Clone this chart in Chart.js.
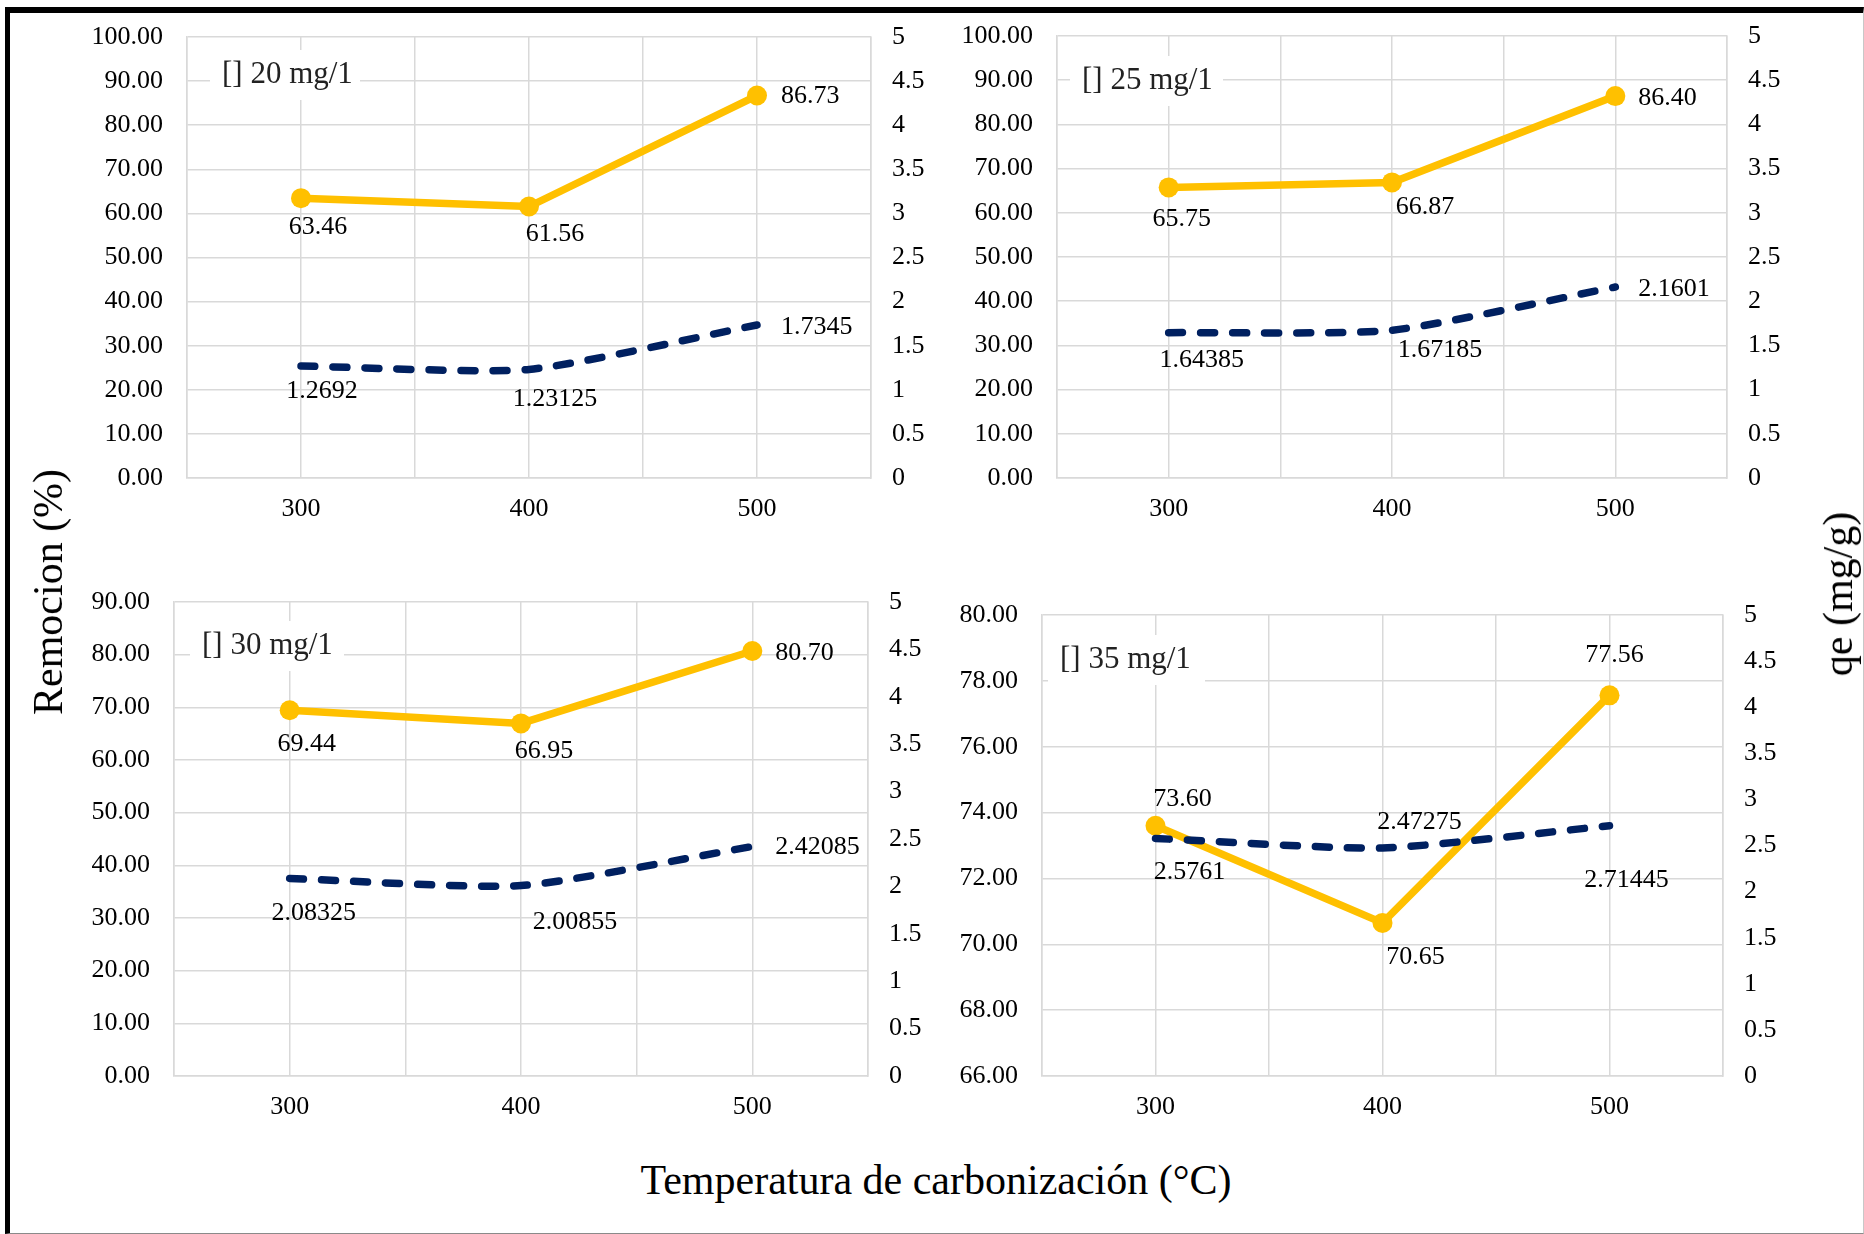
<!DOCTYPE html>
<html>
<head>
<meta charset="utf-8">
<script src="https://cdn.jsdelivr.net/npm/chart.js@4.4.1/dist/chart.umd.min.js"></script>
<style>
  html, body { margin: 0; padding: 0; background: #fff; }
  body { width: 1864px; height: 1234px; position: relative; overflow: hidden;
         font-family: "Liberation Serif", "Times New Roman", serif; color: #000; }
  .frame { position: absolute; left: 5px; top: 7px; width: 1859px; height: 1227px; box-sizing: border-box;
           border-top: 6px solid #000; border-left: 5px solid #000;
           border-right: 1px solid #c8c8c8; border-bottom: 1px solid #8a8a8a; }
  canvas { position: absolute; }
  .title { position: absolute; font-size: 42px; line-height: 1; white-space: nowrap; z-index: 5; }
  .rot { transform: translate(-50%, -50%) rotate(-90deg); }
  .flat { transform: translate(-50%, -50%); }
</style>
</head>
<body>
<div class="frame"></div>
<div class="title rot" style="left:48px; top:592px;">Remocion (%)</div>
<div class="title rot" style="left:1838px; top:594px;">qe (mg/g)</div>
<div class="title flat" style="left:936px; top:1180px;">Temperatura de carbonización (°C)</div>

<script>
// data
const temps = [300, 400, 500];
const xTickLabels = [300, 400, 500];
const panelTitles = ['[] 20 mg/1', '[] 25 mg/1', '[] 30 mg/1', '[] 35 mg/1'];

const remocion20 = [63.46, 61.56, 86.73];
const qe20       = [1.2692, 1.23125, 1.7345];
const remocion25 = [65.75, 66.87, 86.40];
const qe25       = [1.64385, 1.67185, 2.1601];
const remocion30 = [69.44, 66.95, 80.70];
const qe30       = [2.08325, 2.00855, 2.42085];
const remocion35 = [73.60, 70.65, 77.56];
const qe35       = [2.5761, 2.47275, 2.71445];

// left axis [min, max, step] per panel, right axis shared
const remAxes = [[0, 100, 10], [0, 100, 10], [0, 90, 10], [66, 80, 2]];
const qeAxis  = [0, 5, 0.5];

const series = [
  [remocion20, qe20], [remocion25, qe25], [remocion30, qe30], [remocion35, qe35]
];

// layout: plot area (left, top, right, bottom), title box, label offsets
const plotAreas = [[187, 37, 871, 478], [1057, 36, 1727, 478], [174, 602, 868, 1076], [1042, 615, 1723, 1076]];
const titleBoxes = [[23, 13, 150, 50], [13, 20, 153, 50], [16, 19, 154, 50], [6, 20, 157, 50]];
const remLabelPos = [
  [[17, 29, 'c'], [26, 28, 'c'], [24, 1, 'l']],
  [[13, 32, 'c'], [33, 25, 'c'], [23, 2, 'l']],
  [[17, 34, 'c'], [23, 28, 'c'], [23, 2, 'l']],
  [[27, -27, 'c'], [33, 34, 'c'], [5, -40, 'c']]
];
const qeLabelPos = [
  [[21, 25, 'c'], [26, 30, 'c'], [24, 2, 'l']],
  [[33, 27, 'c'], [48, 20, 'c'], [23, 2, 'l']],
  [[24, 35, 'c'], [54, 37, 'c'], [23, 1, 'l']],
  [[34, 34, 'c'], [37, -26, 'c'], [17, 54, 'c']]
];

const PAD_L = 140, PAD_R = 100, PAD_T = 30, PAD_B = 70;
const FONT = '"Liberation Serif", "Times New Roman", serif';
const GRID = '#d9d9d9';

const panelDecor = {
  id: 'panelDecor',
  beforeDatasetsDraw(chart, args, opts) {
    const { ctx, chartArea } = chart;
    const [bx, by, bw, bh] = opts.box;
    ctx.save();
    ctx.fillStyle = '#fff';
    ctx.fillRect(chartArea.left + bx, chartArea.top + by, bw, bh);
    ctx.font = '31px ' + FONT;
    ctx.fillStyle = '#222';
    ctx.textBaseline = 'middle';
    ctx.textAlign = 'left';
    ctx.fillText(opts.title, chartArea.left + bx + 12, chartArea.top + by + bh / 2);
    ctx.restore();
  },
  afterDatasetsDraw(chart, args, opts) {
    const { ctx } = chart;
    ctx.save();
    ctx.font = '26px ' + FONT;
    ctx.fillStyle = '#000';
    ctx.textBaseline = 'middle';
    chart.data.datasets.forEach((ds, i) => {
      const pos = opts.labelPos[ds.yAxisID];
      chart.getDatasetMeta(i).data.forEach((pt, j) => {
        const [dx, dy, al] = pos[j];
        const v = ds.data[j].y;
        ctx.textAlign = al === 'l' ? 'left' : 'center';
        ctx.fillText(ds.yAxisID === 'y' ? v.toFixed(2) : String(v), pt.x + dx, pt.y + dy);
      });
    });
    ctx.restore();
  }
};

// keep the plot area where we put it: no extra padding from the y labels
const fitY = width => s => { s.width = width; s.paddingTop = 0; s.paddingBottom = 0; };

series.forEach(([rem, qe], k) => {
  const [L, T, R, B] = plotAreas[k];
  const cv = document.createElement('canvas');
  const w = R - L + PAD_L + PAD_R, h = B - T + PAD_T + PAD_B;
  cv.width = w; cv.height = h;
  cv.style.left = (L - PAD_L) + 'px';
  cv.style.top = (T - PAD_T) + 'px';
  cv.style.width = w + 'px';
  cv.style.height = h + 'px';
  document.body.appendChild(cv);

  const [ymin, ymax, ystep] = remAxes[k];
  new Chart(cv, {
    type: 'line',
    data: {
      datasets: [
        {
          label: 'qe', yAxisID: 'y2', order: 0,
          data: temps.map((t, i) => ({ x: t, y: qe[i] })),
          borderColor: '#002060', borderWidth: 7.5, borderDash: [14, 18],
          borderCapStyle: 'round', tension: 0.2, pointRadius: 0, fill: false
        },
        {
          label: 'Remocion', yAxisID: 'y', order: 1,
          data: temps.map((t, i) => ({ x: t, y: rem[i] })),
          borderColor: '#ffc000', borderWidth: 7.5, tension: 0,
          pointRadius: 10, pointBackgroundColor: '#ffc000', pointBorderWidth: 0, fill: false
        }
      ]
    },
    options: {
      responsive: false, animation: false, devicePixelRatio: 1,
      layout: { padding: { top: PAD_T, left: 0, right: 0, bottom: 0 } },
      plugins: {
        legend: { display: false }, tooltip: { enabled: false },
        panelDecor: { title: panelTitles[k], box: titleBoxes[k], labelPos: { y: remLabelPos[k], y2: qeLabelPos[k] } }
      },
      scales: {
        x: {
          type: 'linear', min: 250, max: 550,
          afterFit: s => { s.height = PAD_B; },
          ticks: {
            stepSize: 50, padding: 16, color: '#000', font: { family: FONT, size: 26 },
            maxRotation: 0,
            callback: v => xTickLabels.includes(v) ? String(v) : ''
          },
          grid: { color: GRID, lineWidth: 1.5, drawTicks: false },
          border: { color: GRID, width: 1.5 }
        },
        y: {
          position: 'left', min: ymin, max: ymax,
          afterFit: fitY(PAD_L),
          ticks: { stepSize: ystep, padding: 24, color: '#000', font: { family: FONT, size: 26 },
                   callback: v => v.toFixed(2) },
          grid: { color: GRID, lineWidth: 1.5, drawTicks: false },
          border: { color: GRID, width: 1.5 }
        },
        y2: {
          position: 'right', min: qeAxis[0], max: qeAxis[1],
          afterFit: fitY(PAD_R),
          ticks: { stepSize: qeAxis[2], padding: 21, color: '#000', font: { family: FONT, size: 26 },
                   callback: v => String(v) },
          grid: { drawOnChartArea: false, drawTicks: false },
          border: { color: GRID, width: 1.5 }
        }
      }
    },
    plugins: [panelDecor]
  });
});
</script>
</body>
</html>
